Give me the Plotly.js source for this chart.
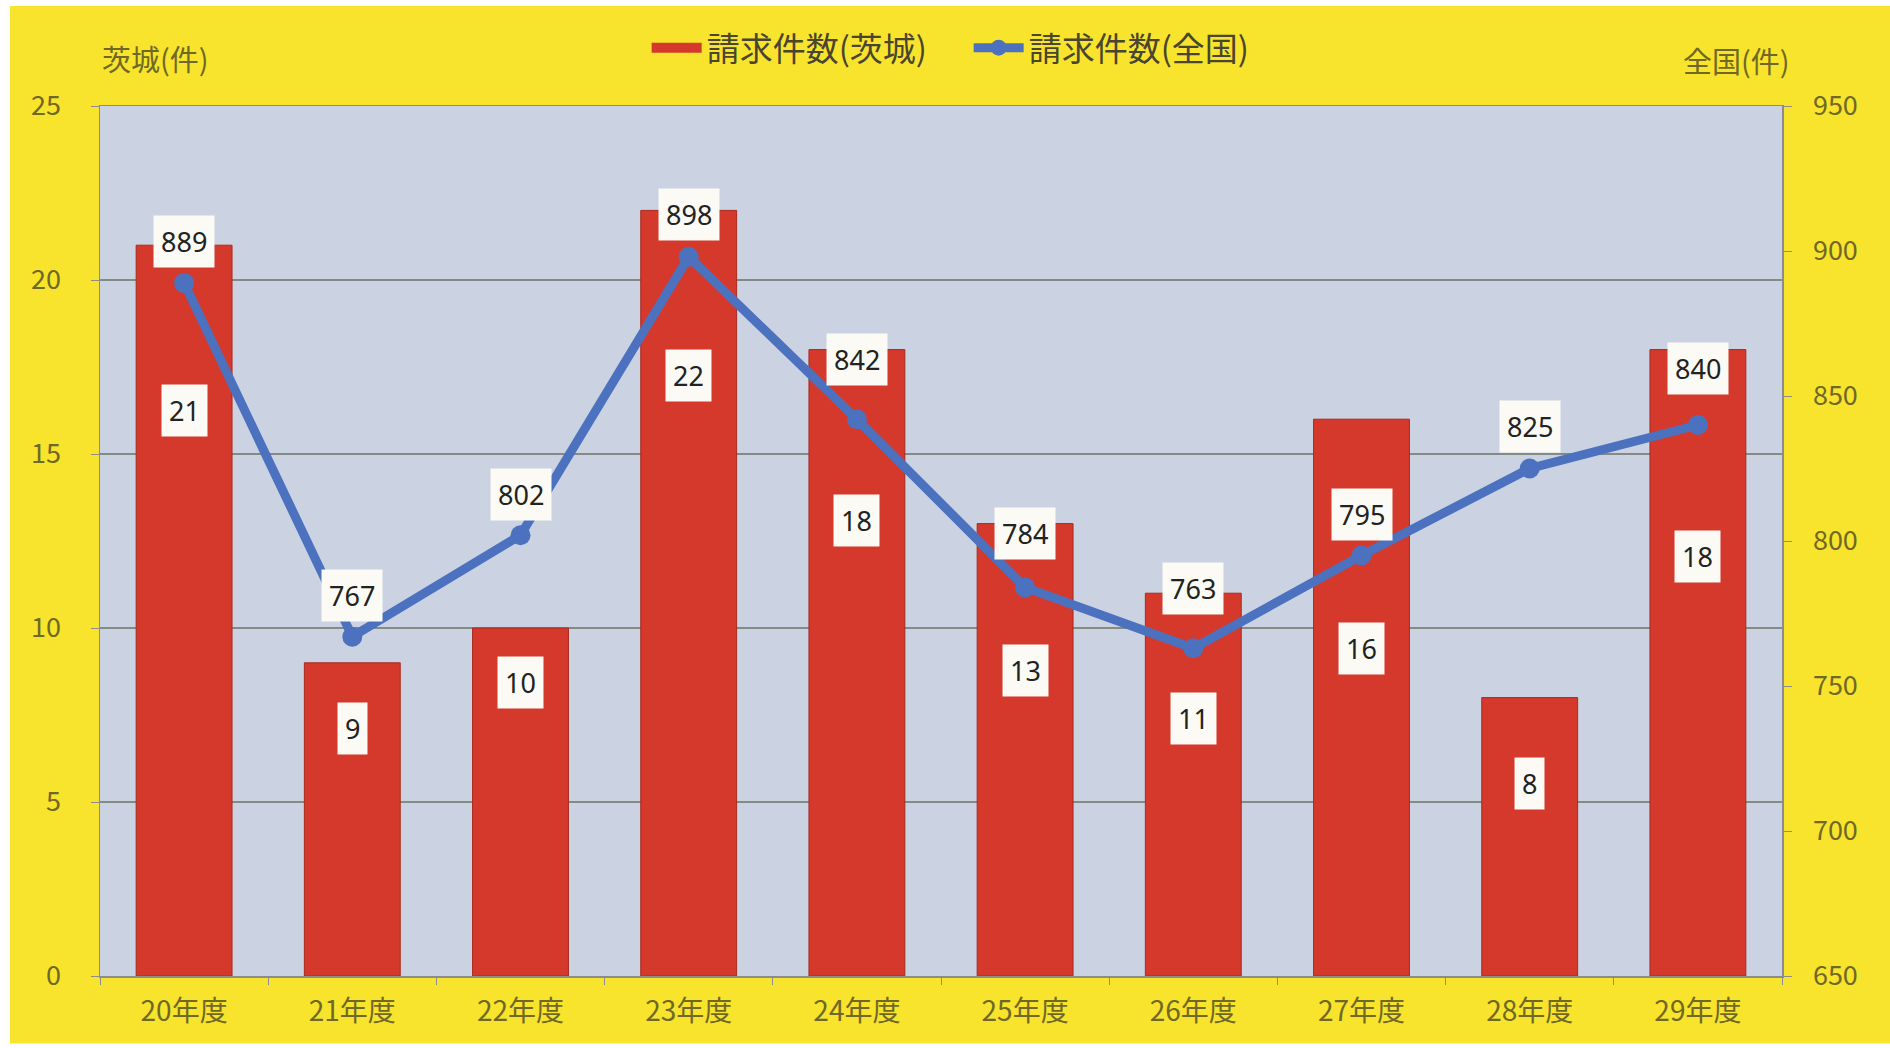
<!DOCTYPE html>
<html>
<head>
<meta charset="utf-8">
<script src="https://cdn.plot.ly/plotly-3.0.1.min.js"></script>
<style>html,body{margin:0;padding:0;background:#fff;}#chart{width:1890px;height:1048px;}</style>
</head>
<body>
<div id="chart"></div>
<script>
// ---- data ----
const categories = ["20年度","21年度","22年度","23年度","24年度","25年度","26年度","27年度","28年度","29年度"];
const ibaraki = [21, 9, 10, 22, 18, 13, 11, 16, 8, 18];
const national = [889, 767, 802, 898, 842, 784, 763, 795, 825, 840];
const seriesNames = ["請求件数(茨城)", "請求件数(全国)"];
const leftTitle = "茨城(件)";
const rightTitle = "全国(件)";

// label placement (pixel shifts relative to the mark)
const barLabelShift = [-165, -66, -54, -165, -171, -147, -125, -229, -86, -207];
const lineLabelShift = [41, 41, 41, 42, 60, 54, 60, 41, 42, 57];

const RED = "#d5392b";
const BLUE = "#4c72bf";
const tickFont = {family: "Noto Sans CJK JP, Noto Sans, sans-serif", size: 27, color: "#6f6826"};
const xTickFont = {family: "Noto Sans CJK JP, Noto Sans, sans-serif", size: 28, color: "#6f6826"};
const labelFont = {family: "Noto Sans, Open Sans, sans-serif", size: 27, color: "#222"};

const bar = {
  type: "bar", name: seriesNames[0], x: categories, y: ibaraki, yaxis: "y",
  marker: {color: RED, line: {color: "#a82a1f", width: 1}},
  showlegend: false
};
// legend swatch for the bar series (wide rectangle as in the original)
const barLegend = {
  type: "scatter", mode: "lines", name: seriesNames[0], x: [categories[0]], y: [null], yaxis: "y",
  line: {color: RED, width: 16}, showlegend: true
};
const line = {
  type: "scatter", mode: "lines+markers", name: seriesNames[1], x: categories, y: national, yaxis: "y2",
  line: {color: BLUE, width: 9},
  marker: {color: BLUE, size: 20}
};

const annotations = [];
categories.forEach((c, i) => {
  annotations.push({
    x: c, y: ibaraki[i], xref: "x", yref: "y", text: String(ibaraki[i]),
    showarrow: false, yshift: barLabelShift[i], yanchor: "middle",
    bgcolor: "#fbfaf4", borderpad: 7, font: labelFont
  });
  annotations.push({
    x: c, y: national[i], xref: "x", yref: "y2", text: String(national[i]),
    showarrow: false, yshift: lineLabelShift[i], yanchor: "middle",
    bgcolor: "#fbfaf4", borderpad: 7, font: labelFont
  });
});
const titleFont = {family: "Noto Sans CJK JP, sans-serif", size: 29, color: "#6f6826"};
annotations.push({
  xref: "paper", yref: "paper", x: 0, y: 1.055, xanchor: "left", yanchor: "middle",
  text: leftTitle, showarrow: false, font: titleFont
});
annotations.push({
  xref: "paper", yref: "paper", x: 1.006, y: 1.053, xanchor: "right", yanchor: "middle",
  text: rightTitle, showarrow: false, font: titleFont
});

const layout = {
  width: 1890, height: 1048,
  margin: {l: 100, r: 108, t: 106, b: 72},
  paper_bgcolor: "#f8e42c",
  plot_bgcolor: "#cbd2e2",
  bargap: 0.43,
  showlegend: true,
  legend: {
    orientation: "h", x: 0.325, xanchor: "left", y: 1.067, yanchor: "middle",
    font: {family: "Noto Sans CJK JP, sans-serif", size: 33, color: "#4a4530"},
    bgcolor: "rgba(0,0,0,0)", itemwidth: 50, tracegroupgap: 0,
    entrywidth: 257, entrywidthmode: "pixels"
  },
  xaxis: {
    type: "category", range: [-0.5, 9.5], tickfont: xTickFont,
    showline: true, linecolor: "#8c8c8c", linewidth: 1.5, mirror: true,
    ticks: "outside", tickson: "boundaries", ticklen: 7, tickcolor: "#8c8c8c",
    showgrid: false, fixedrange: true, ticklabelstandoff: 10
  },
  yaxis: {
    range: [0, 25], dtick: 5, tickfont: tickFont,
    showline: true, linecolor: "#8c8c8c", linewidth: 1.5,
    ticks: "outside", ticklen: 8, tickcolor: "#8c8c8c",
    showgrid: true, gridcolor: "#848b84", gridwidth: 1.5,
    zeroline: false, ticklabelstandoff: 24
  },
  yaxis2: {
    range: [650, 950], dtick: 50, overlaying: "y", side: "right", tickfont: tickFont,
    showline: true, linecolor: "#8c8c8c", linewidth: 1.5,
    ticks: "outside", ticklen: 8, tickcolor: "#8c8c8c",
    showgrid: false, zeroline: false, ticklabelstandoff: 16
  },
  annotations: annotations,
  shapes: [
    {type: "rect", xref: "paper", yref: "paper", x0: -0.1, x1: 1.1, y0: 1.115, y1: 1.2, fillcolor: "#ffffff", line: {width: 0}, layer: "above"},
    {type: "rect", xref: "paper", yref: "paper", x0: -0.1, x1: -0.0535, y0: -0.2, y1: 1.2, fillcolor: "#ffffff", line: {width: 0}, layer: "above"},
    {type: "rect", xref: "paper", yref: "paper", x0: -0.1, x1: 1.1, y0: -0.2, y1: -0.0775, fillcolor: "#ffffff", line: {width: 0}, layer: "above"}
  ]
};

Plotly.newPlot("chart", [bar, barLegend, line], layout, {displayModeBar: false, staticPlot: true});
</script>
</body>
</html>
